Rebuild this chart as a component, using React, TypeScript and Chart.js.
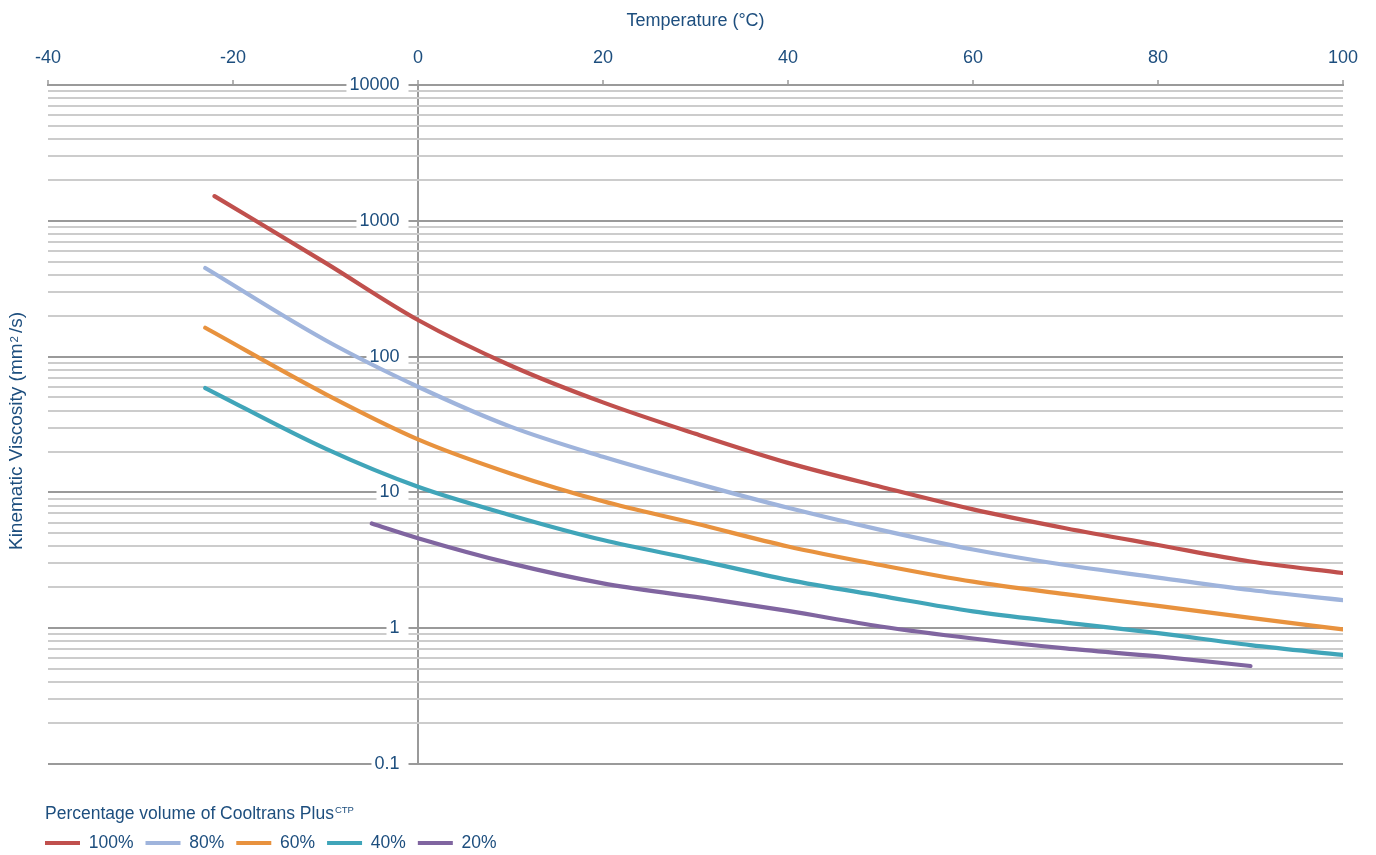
import React, { useEffect, useRef } from 'react';
import { Chart, registerables } from 'chart.js';

Chart.register(...registerables);

const FONT = "'Liberation Sans', Arial, Helvetica, sans-serif";
const TEXT = '#1d4e7e';
const AXIS_GRAY = '#9a9a9a';
const MINOR_GRAY = '#cccccc';

// ---- text ----
const xAxisTitle = 'Temperature (°C)';
const yTitleMain = 'Kinematic Viscosity (mm';
const yTitleSup = '2';
const yTitleEnd = '/s)';
const legendTitleMain = 'Percentage volume of Cooltrans Plus';
const legendTitleSup = 'CTP';

// ---- axes ----
const xMin = -40;
const xMax = 100;
const xStep = 20;
const yMajorValues = [0.1, 1, 10, 100, 1000, 10000];
const yMajorLabels = ['0.1', '1', '10', '100', '1000', '10000'];
const yMinorMultipliers = [2, 3, 4, 5, 6, 7, 8, 9];

// ---- series ----
const seriesLabels = ['100%', '80%', '60%', '40%', '20%'];
const seriesColors = ['#c0504d', '#9fb4dc', '#e8923e', '#40a5b9', '#8065a0'];

const temp100 = [-22, -10, 0, 10, 20, 30, 40, 50, 60, 70, 80, 90, 100];
const visc100 = [1520, 490, 186, 86, 46, 27, 16.5, 11, 7.5, 5.45, 4.1, 3.1, 2.55];

const temp80 = [-23, -10, 0, 10, 20, 30, 40, 50, 60, 70, 80, 90, 100];
const visc80 = [449, 132, 60, 30.5, 18.3, 11.7, 7.7, 5.3, 3.8, 2.92, 2.36, 1.91, 1.61];

const temp60 = [-23, -10, 0, 10, 20, 30, 40, 50, 60, 70, 80, 90, 100];
const visc60 = [163, 53, 24.6, 13.8, 8.6, 5.9, 4.0, 2.92, 2.2, 1.78, 1.46, 1.19, 0.98];

const temp40 = [-23, -10, 0, 10, 20, 30, 40, 50, 60, 70, 80, 90, 100];
const visc40 = [58.7, 21, 11, 6.8, 4.46, 3.2, 2.27, 1.73, 1.33, 1.1, 0.92, 0.75, 0.635];

const temp20 = [-5, 0, 10, 20, 30, 40, 50, 60, 70, 80, 90];
const visc20 = [5.9, 4.6, 3.0, 2.14, 1.7, 1.34, 1.03, 0.84, 0.71, 0.62, 0.527];

const seriesTemps = [temp100, temp80, temp60, temp40, temp20];
const seriesVisc = [visc100, visc80, visc60, visc40, visc20];

// ---- helpers ----
const isMajor = (v: number) => yMajorValues.some((m) => Math.abs(v - m) / m < 1e-6);
const majorLabel = (v: number) => {
  const i = yMajorValues.findIndex((m) => Math.abs(v - m) / m < 1e-6);
  return i >= 0 ? yMajorLabels[i] : '';
};
const yGridValues: number[] = [];
yMajorValues.forEach((m, i) => {
  yGridValues.push(m);
  if (i < yMajorValues.length - 1) {
    yMinorMultipliers.forEach((k) => yGridValues.push(parseFloat((m * k).toPrecision(8))));
  }
});

const LEGEND_PAD = 12;

const textPlugin = {
  id: 'extraTexts',
  afterDraw(chart: any) {
    const ctx = chart.ctx as CanvasRenderingContext2D;
    // Y axis title (rotated)
    ctx.save();
    ctx.translate(17, 431);
    ctx.rotate(-Math.PI / 2);
    ctx.fillStyle = TEXT;
    ctx.textAlign = 'left';
    ctx.textBaseline = 'middle';
    const mainFont = `19px ${FONT}`;
    const supFont = `11.5px ${FONT}`;
    ctx.font = mainFont;
    const w1 = ctx.measureText(yTitleMain).width;
    const w3 = ctx.measureText(yTitleEnd).width;
    ctx.font = supFont;
    const w2 = ctx.measureText(yTitleSup).width;
    const gap = 3;
    const total = w1 + 1 + w2 + gap + w3;
    let x0 = -total / 2;
    ctx.font = mainFont;
    ctx.fillText(yTitleMain, x0, 0);
    x0 += w1 + 1;
    ctx.font = supFont;
    ctx.textBaseline = 'alphabetic';
    ctx.fillText(yTitleSup, x0, 1);
    x0 += w2 + gap;
    ctx.font = mainFont;
    ctx.textBaseline = 'middle';
    ctx.fillText(yTitleEnd, x0, 0);
    ctx.restore();

    // Legend title with superscript
    const lg = chart.legend;
    if (lg) {
      ctx.save();
      ctx.fillStyle = TEXT;
      ctx.textAlign = 'left';
      ctx.textBaseline = 'alphabetic';
      ctx.font = `17.5px ${FONT}`;
      const lx = lg.left + LEGEND_PAD;
      const ly = lg.top + 55;
      ctx.fillText(legendTitleMain, lx, ly);
      const tw = ctx.measureText(legendTitleMain).width;
      ctx.font = `9.5px ${FONT}`;
      ctx.fillText(legendTitleSup, lx + tw + 1, ly - 5.7);
      ctx.restore();
    }
  },
};

export default function App() {
  const ref = useRef<HTMLCanvasElement>(null);
  useEffect(() => {
    const datasets = seriesLabels.map((label, i) => ({
      label,
      data: seriesTemps[i].map((t, j) => ({ x: t, y: seriesVisc[i][j] })),
      borderColor: seriesColors[i],
      backgroundColor: seriesColors[i],
      borderWidth: 4.2,
      pointRadius: 0,
      pointHoverRadius: 0,
      cubicInterpolationMode: 'monotone' as const,
      borderCapStyle: 'round' as const,
      borderJoinStyle: 'round' as const,
      fill: false,
    }));

    const chart = new Chart(ref.current as HTMLCanvasElement, {
      type: 'line',
      data: { datasets },
      plugins: [textPlugin],
      options: {
        animation: false,
        responsive: false,
        maintainAspectRatio: false,
        layout: { padding: { left: 33, right: 33, top: 0, bottom: -6.75 } },
        scales: {
          x: {
            type: 'linear',
            position: 'top',
            min: xMin,
            max: xMax,
            ticks: {
              stepSize: xStep,
              color: TEXT,
              font: { family: FONT, size: 18 },
              padding: 10.7,
              maxRotation: 0,
            },
            grid: {
              color: (c: any) => (c.tick && c.tick.value === 0 ? AXIS_GRAY : 'rgba(0,0,0,0)'),
              lineWidth: 2,
              tickColor: AXIS_GRAY,
              tickLength: 5,
              tickWidth: 1.5,
              drawOnChartArea: true,
            },
            border: { display: true, color: AXIS_GRAY, width: 2 },
            title: {
              display: true,
              text: xAxisTitle,
              color: TEXT,
              font: { family: FONT, size: 18 },
              padding: { top: 10.7, bottom: 0 },
            },
            afterFit: (s: any) => {
              s.height = 85;
              s.paddingLeft = 48;
            },
          },
          y: {
            type: 'logarithmic',
            position: { x: -2 },
            min: 0.1,
            max: 10000,
            afterBuildTicks: (s: any) => {
              s.ticks = yGridValues.map((v) => ({ value: v, major: isMajor(v) }));
            },
            grid: {
              color: (c: any) => (c.tick && isMajor(c.tick.value) ? AXIS_GRAY : MINOR_GRAY),
              lineWidth: (c: any) => (c.tick && isMajor(c.tick.value) ? 2 : 2),
              drawTicks: false,
            },
            border: { display: false },
            ticks: {
              autoSkip: false,
              color: TEXT,
              font: { family: FONT, size: 18 },
              padding: 0,
              callback: (v: any) => majorLabel(Number(v)),
              showLabelBackdrop: (c: any) => !!(c.tick && isMajor(c.tick.value)),
              backdropColor: '#ffffff',
              backdropPadding: { left: 3, right: 9, top: 0, bottom: 0 },
            },
          },
        },
        plugins: {
          tooltip: { enabled: false },
          legend: {
            display: true,
            position: 'bottom',
            align: 'start',
            title: {
              display: true,
              text: '',
              font: { family: FONT, size: 17.5 },
              padding: { top: 37.25, bottom: 0 },
            },
            labels: {
              boxWidth: 35,
              boxHeight: 4,
              padding: LEGEND_PAD,
              color: TEXT,
              font: { family: FONT, size: 17.5 },
              generateLabels: (ch: any) =>
                ch.data.datasets.map((ds: any, i: number) => ({
                  text: ds.label,
                  fillStyle: ds.borderColor,
                  strokeStyle: ds.borderColor,
                  lineWidth: 0,
                  hidden: false,
                  datasetIndex: i,
                  fontColor: TEXT,
                })),
            },
          },
        },
      } as any,
    });
    return () => chart.destroy();
  }, []);

  return (
    <div style={{ position: 'absolute', left: 0, top: 0, width: 1376, height: 855, background: '#ffffff' }}>
      <canvas ref={ref} width={1376} height={855} />
    </div>
  );
}
